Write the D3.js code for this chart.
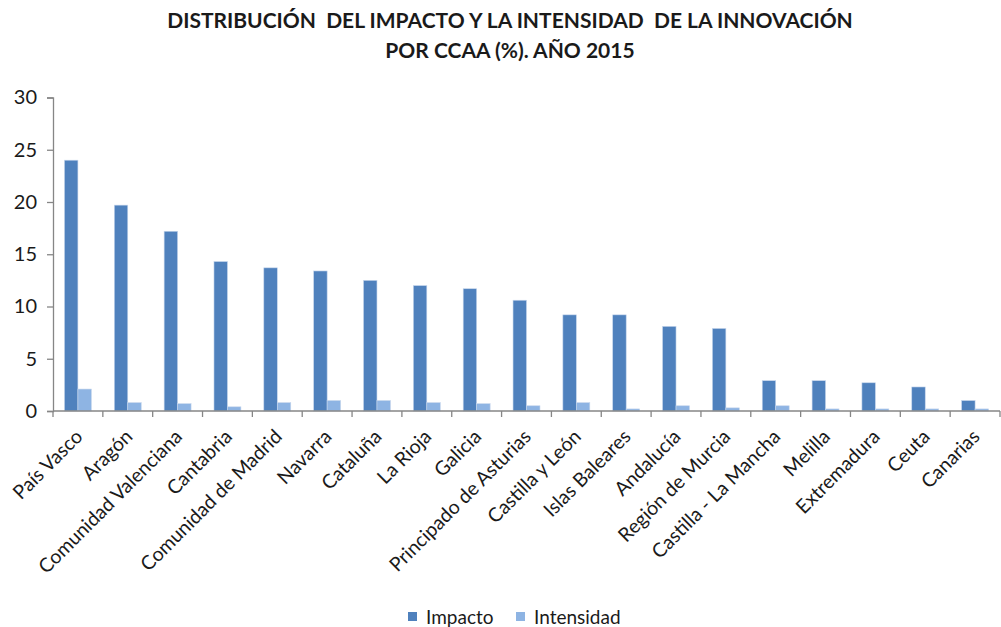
<!DOCTYPE html>
<html>
<head>
<meta charset="utf-8">
<script src="https://cdn.jsdelivr.net/npm/d3@7"></script>
<style>
  body { margin: 0; background: #fff; }
  svg text { font-family: Lato, "Open Sans", sans-serif; }
</style>
</head>
<body>
<div id="chart"></div>
<script>
const regions = ["País Vasco", "Aragón", "Comunidad Valenciana", "Cantabria", "Comunidad de Madrid",
  "Navarra", "Cataluña", "La Rioja", "Galicia", "Principado de Asturias", "Castilla y León",
  "Islas Baleares", "Andalucía", "Región de Murcia", "Castilla - La Mancha", "Melilla",
  "Extremadura", "Ceuta", "Canarias"];
const impacto = [24.0, 19.7, 17.2, 14.3, 13.7, 13.4, 12.5, 12.0, 11.7, 10.6, 9.2, 9.2, 8.1, 7.9, 2.9, 2.9, 2.7, 2.3, 1.0];
const intensidad = [2.1, 0.8, 0.7, 0.4, 0.8, 1.0, 1.0, 0.8, 0.7, 0.5, 0.8, 0.2, 0.5, 0.3, 0.5, 0.2, 0.2, 0.2, 0.2];
const series = ["Impacto", "Intensidad"];
const yTicks = [0, 5, 10, 15, 20, 25, 30];
const titleLines = ["DISTRIBUCIÓN  DEL IMPACTO Y LA INTENSIDAD  DE LA INNOVACIÓN", "POR CCAA (%). AÑO 2015"];

const size = { width: 1001, height: 627 };
const margin = { left: 53, right: 1, top: 97.5, bottom: 216 };
const colors = { Impacto: "#4f81bd", Intensidad: "#8eb4e3" };

const rows = regions.map((name, i) => ({ name, Impacto: impacto[i], Intensidad: intensidad[i] }));

const svg = d3.select("#chart")
  .append("svg")
  .attr("width", size.width)
  .attr("height", size.height);

// title (keep the double spaces of the original)
svg.append("g")
  .selectAll("text")
  .data(titleLines)
  .join("text")
  .attr("x", 510)
  .attr("y", (d, i) => 28 + i * 30)
  .attr("text-anchor", "middle")
  .style("white-space", "pre")
  .style("font-size", "21px")
  .style("font-weight", "bold")
  .attr("fill", "#1a1a1a")
  .text((d) => d);

const x = d3.scaleBand()
  .domain(regions)
  .range([margin.left, size.width - margin.right]);

const xInner = d3.scaleBand()
  .domain(series)
  .range([0, x.bandwidth()])
  .paddingInner(0)
  .paddingOuter(0.85);

const y = d3.scaleLinear()
  .domain([0, 30])
  .range([size.height - margin.bottom, margin.top]);

// bars
svg.append("g")
  .selectAll("g")
  .data(rows)
  .join("g")
  .attr("transform", (d) => `translate(${x(d.name)},0)`)
  .selectAll("rect")
  .data((d) => series.map((k) => ({ key: k, value: d[k] })))
  .join("rect")
  .attr("x", (d) => xInner(d.key))
  .attr("width", xInner.bandwidth())
  .attr("y", (d) => y(d.value))
  .attr("height", (d) => y(0) - y(d.value))
  .attr("fill", (d) => colors[d.key])
  .attr("stroke", "#c6d6ec")
  .attr("stroke-width", 0.6);

// y axis
const yAxis = svg.append("g")
  .attr("transform", `translate(${margin.left},0)`)
  .call(d3.axisLeft(y).tickValues(yTicks).tickSize(6).tickPadding(10));
yAxis.select(".domain").attr("stroke", "#868686").attr("stroke-width", 1.3);
yAxis.selectAll(".tick line").attr("stroke", "#868686").attr("stroke-width", 1.3);
yAxis.selectAll(".tick text")
  .style("font-size", "20px")
  .style("font-family", "Lato, sans-serif")
  .attr("fill", "#1a1a1a");

// x axis: ticks at band boundaries
const xAxis = svg.append("g")
  .attr("transform", `translate(0,${y(0)})`);
xAxis.append("line")
  .attr("x1", margin.left)
  .attr("x2", size.width - margin.right)
  .attr("stroke", "#868686")
  .attr("stroke-width", 1.3);
xAxis.selectAll(".tk")
  .data(regions.concat(["end"]))
  .join("line")
  .attr("class", "tk")
  .attr("x1", (d, i) => margin.left + i * x.step())
  .attr("x2", (d, i) => margin.left + i * x.step())
  .attr("y1", 0)
  .attr("y2", 6)
  .attr("stroke", "#868686")
  .attr("stroke-width", 1.3);
xAxis.selectAll(".lbl")
  .data(regions)
  .join("text")
  .attr("class", "lbl")
  .attr("transform", (d) => `translate(${x(d) + x.bandwidth() / 2 + 1},${22}) rotate(-45)`)
  .attr("text-anchor", "end")
  .attr("dy", "0.35em")
  .style("font-size", "19.5px")
  .attr("fill", "#1a1a1a")
  .text((d) => d);

// legend
const legendPos = [{ key: "Impacto", x: 408 }, { key: "Intensidad", x: 516 }];
const legend = svg.append("g")
  .selectAll("g")
  .data(legendPos)
  .join("g")
  .attr("transform", (d) => `translate(${d.x},612)`);
legend.append("rect")
  .attr("width", 9)
  .attr("height", 9)
  .attr("fill", (d) => colors[d.key]);
legend.append("text")
  .attr("x", 18)
  .attr("y", 5)
  .attr("dy", "0.35em")
  .style("font-size", "19px")
  .attr("fill", "#1a1a1a")
  .text((d) => d.key);
</script>
</body>
</html>
